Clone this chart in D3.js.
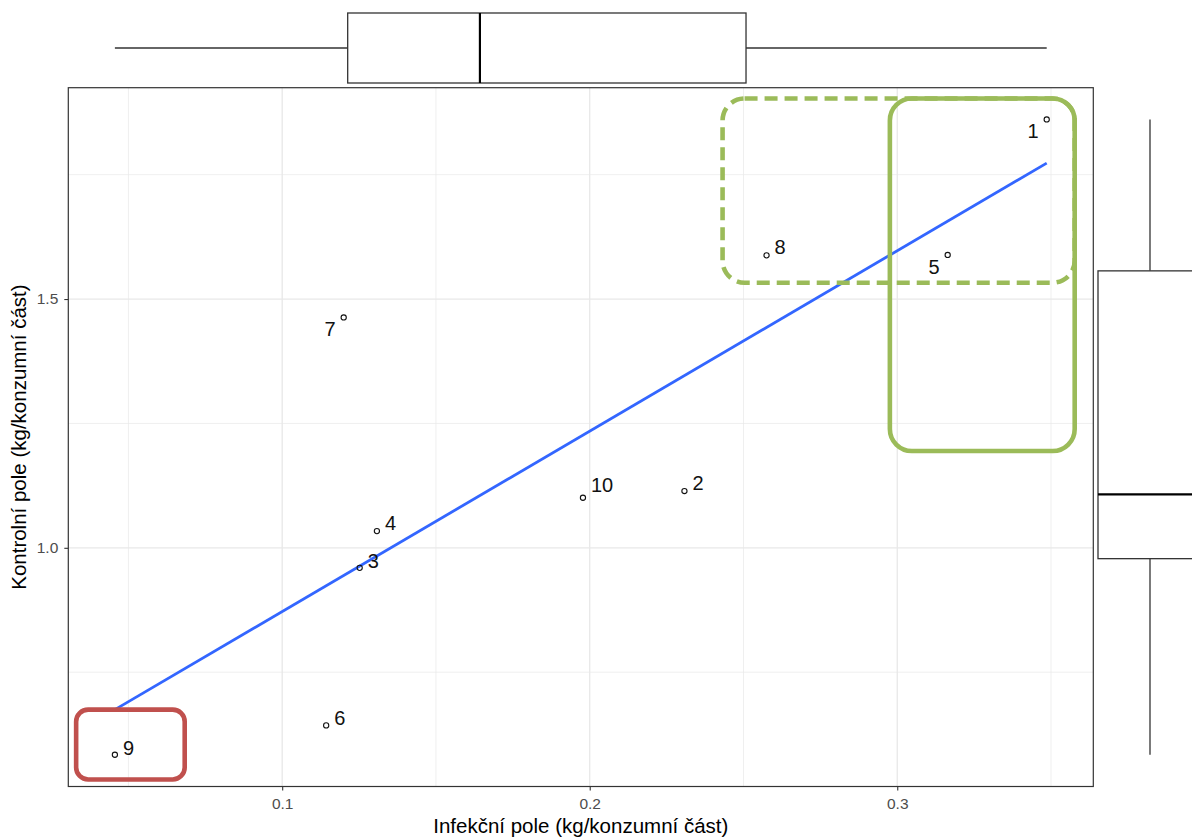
<!DOCTYPE html>
<html><head><meta charset="utf-8">
<script src="https://cdn.jsdelivr.net/npm/d3@7"></script>
<style>html,body{margin:0;padding:0;background:#fff}svg{display:block}</style>
</head><body>
<svg id="chart" width="1192" height="838"></svg>
<script>
// ---- data ----
const ids = ["1","2","3","4","5","6","7","8","9","10"];
const infekcni = [0.3486,0.2308,0.1252,0.1308,0.3164,0.1143,0.1200,0.2575,0.0456,0.1978];
const kontrolni = [1.8609,1.1141,0.9597,1.0336,1.5886,0.6431,1.4630,1.5878,0.5841,1.1006];
const labelSide = ["left","right","right","right","left","right","left","right","right","right"];
const labelLift = [0,1,0,1,0,0,0,1,0,6];
const xTicks = [0.1,0.2,0.3];
const yTicks = [1.0,1.5];
const xMinor = [0.05,0.15,0.25,0.35];
const yMinor = [0.75,1.25,1.75];
const xTitle = "Infekční pole (kg/konzumní část)";
const yTitle = "Kontrolní pole (kg/konzumní část)";
// highlight boxes in data units
const highlights = [
  {x0:0.2432,x1:0.3577,y0:1.5328,y1:1.9031,color:"#9BBB59",dash:"13,7",r:22},
  {x0:0.2976,x1:0.3577,y0:1.1946,y1:1.9031,color:"#9BBB59",dash:null,r:22},
  {x0:0.0330,x1:0.0683,y0:0.5344,y1:0.6747,color:"#C0504D",dash:null,r:12}
];

const pts = ids.map((id,i)=>({id,x:infekcni[i],y:kontrolni[i],side:labelSide[i],lift:labelLift[i]}));

// ---- layout ----
const svg = d3.select("#chart");
const P = {l:68.3,r:1093.3,t:87.7,b:786.5};
const ext = (a)=>{const [lo,hi]=d3.extent(a);const p=(hi-lo)*0.05;return [lo-p,hi+p];};
const x = d3.scaleLinear().domain(ext(infekcni)).range([P.l,P.r]);
const y = d3.scaleLinear().domain(ext(kontrolni)).range([P.b,P.t]);
const font = "'Liberation Sans', Arial, sans-serif";

// grid
const g = svg.append("g");
g.selectAll(".xminor").data(xMinor.filter(v=>v>x.domain()[0]&&v<x.domain()[1])).join("line")
  .attr("x1",d=>x(d)).attr("x2",d=>x(d)).attr("y1",P.t).attr("y2",P.b)
  .attr("stroke","#E8E8E8").attr("stroke-width",0.7);
g.selectAll(".yminor").data(yMinor.filter(v=>v>y.domain()[0]&&v<y.domain()[1])).join("line")
  .attr("y1",d=>y(d)).attr("y2",d=>y(d)).attr("x1",P.l).attr("x2",P.r)
  .attr("stroke","#E8E8E8").attr("stroke-width",0.7);
g.selectAll(".xmaj").data(xTicks).join("line")
  .attr("x1",d=>x(d)).attr("x2",d=>x(d)).attr("y1",P.t).attr("y2",P.b)
  .attr("stroke","#E8E8E8").attr("stroke-width",1.3);
g.selectAll(".ymaj").data(yTicks).join("line")
  .attr("y1",d=>y(d)).attr("y2",d=>y(d)).attr("x1",P.l).attr("x2",P.r)
  .attr("stroke","#E8E8E8").attr("stroke-width",1.3);

// axes
const xAxis = d3.axisBottom(x).tickValues(xTicks).tickFormat(d3.format(".1f")).tickSize(4).tickPadding(7);
const yAxis = d3.axisLeft(y).tickValues(yTicks).tickFormat(d3.format(".1f")).tickSize(4).tickPadding(6);
const gx = svg.append("g").attr("transform",`translate(0,${P.b})`).call(xAxis);
const gy = svg.append("g").attr("transform",`translate(${P.l},0)`).call(yAxis);
[gx,gy].forEach(a=>{
  a.select(".domain").remove();
  a.selectAll("line").attr("stroke","#333").attr("stroke-width",1.1);
  a.selectAll("text").attr("fill","#4D4D4D").style("font-family",font).style("font-size","15.5px");
});

// regression line (least squares)
const mx = d3.mean(infekcni), my = d3.mean(kontrolni);
const slope = d3.sum(pts,p=>(p.x-mx)*(p.y-my))/d3.sum(pts,p=>(p.x-mx)**2);
const icpt = my - slope*mx;
const [xl,xh] = d3.extent(infekcni);
svg.append("path")
  .datum([xl,xh].map(v=>[v,icpt+slope*v]))
  .attr("d",d3.line().x(d=>x(d[0])).y(d=>y(d[1])))
  .attr("stroke","#3366FF").attr("stroke-width",2.8).attr("fill","none");

// points
svg.selectAll(".pt").data(pts).join("circle")
  .attr("cx",d=>x(d.x)).attr("cy",d=>y(d.y)).attr("r",2.6)
  .attr("fill","none").attr("stroke","#111").attr("stroke-width",1.1);

// labels
svg.selectAll(".lbl").data(pts).join("text")
  .attr("x",d=>x(d.x)+(d.side==="left"?-8:8))
  .attr("y",d=>y(d.y)+(d.side==="left"?19:0)-d.lift)
  .attr("text-anchor",d=>d.side==="left"?"end":"start")
  .style("font-family",font).style("font-size","20px").attr("fill","#111")
  .text(d=>d.id);

// panel border
svg.append("rect").attr("x",P.l).attr("y",P.t).attr("width",P.r-P.l).attr("height",P.b-P.t)
  .attr("fill","none").attr("stroke","#333").attr("stroke-width",1.2);

// axis titles
svg.append("text").attr("x",(P.l+P.r)/2).attr("y",833).attr("text-anchor","middle")
  .style("font-family",font).style("font-size","20.5px").attr("fill","#000").text(xTitle);
svg.append("text").attr("transform",`translate(26,${(P.t+P.b)/2}) rotate(-90)`).attr("text-anchor","middle")
  .style("font-family",font).style("font-size","20.5px").attr("fill","#000").text(yTitle);

// marginal boxplots
function stats(a){const s=a.slice().sort(d3.ascending);
  const q1=d3.quantileSorted(s,0.25),q2=d3.quantileSorted(s,0.5),q3=d3.quantileSorted(s,0.75),iqr=q3-q1;
  const lo=d3.min(s.filter(v=>v>=q1-1.5*iqr)),hi=d3.max(s.filter(v=>v<=q3+1.5*iqr));
  return {q1,q2,q3,lo,hi};}
const sx = stats(infekcni), sy = stats(kontrolni);
const topBox = svg.append("g").attr("stroke","#333").attr("fill","#fff");
const tc = 48, th = 35;
topBox.append("line").attr("x1",x(sx.lo)).attr("x2",x(sx.q1)).attr("y1",tc).attr("y2",tc).attr("stroke-width",1.3);
topBox.append("line").attr("x1",x(sx.q3)).attr("x2",x(sx.hi)).attr("y1",tc).attr("y2",tc).attr("stroke-width",1.3);
topBox.append("rect").attr("x",x(sx.q1)).attr("y",tc-th).attr("width",x(sx.q3)-x(sx.q1)).attr("height",2*th).attr("stroke-width",1.3);
topBox.append("line").attr("x1",x(sx.q2)).attr("x2",x(sx.q2)).attr("y1",tc-th).attr("y2",tc+th).attr("stroke","#000").attr("stroke-width",2.2);
const rightBox = svg.append("g").attr("stroke","#333").attr("fill","#fff");
const rc = 1150, rw = 52;
rightBox.append("line").attr("y1",y(sy.hi)).attr("y2",y(sy.q3)).attr("x1",rc).attr("x2",rc).attr("stroke-width",1.3);
rightBox.append("line").attr("y1",y(sy.q1)).attr("y2",y(sy.lo)).attr("x1",rc).attr("x2",rc).attr("stroke-width",1.3);
rightBox.append("rect").attr("x",rc-rw).attr("y",y(sy.q3)).attr("width",2*rw).attr("height",y(sy.q1)-y(sy.q3)).attr("stroke-width",1.3);
rightBox.append("line").attr("y1",y(sy.q2)).attr("y2",y(sy.q2)).attr("x1",rc-rw).attr("x2",rc+rw).attr("stroke","#000").attr("stroke-width",2.2);

// highlight annotations
svg.selectAll(".hl").data(highlights).join("rect")
  .attr("x",d=>x(d.x0)).attr("y",d=>y(d.y1))
  .attr("width",d=>x(d.x1)-x(d.x0)).attr("height",d=>y(d.y0)-y(d.y1))
  .attr("rx",d=>d.r).attr("ry",d=>d.r)
  .attr("fill","none").attr("stroke",d=>d.color).attr("stroke-width",4.6)
  .attr("stroke-dasharray",d=>d.dash);
</script>
</body></html>
